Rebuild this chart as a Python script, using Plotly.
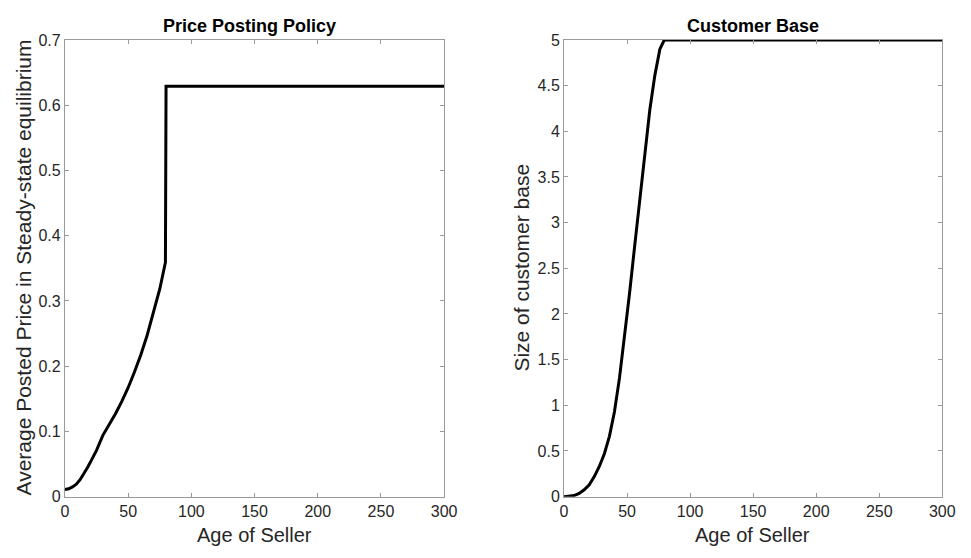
import plotly.graph_objects as go

W, H = 971, 558

# Left panel: price posting policy
age_price = [0, 3, 6, 9, 12, 15, 18, 21, 25, 30, 35, 40, 45, 50, 55, 60, 65, 70, 75, 79.5, 80, 300]
price = [0.011, 0.012, 0.015, 0.019, 0.026, 0.035, 0.045, 0.056, 0.071, 0.094, 0.110, 0.127, 0.146, 0.167, 0.191, 0.217, 0.247, 0.281, 0.318, 0.359, 0.629, 0.629]

# Right panel: customer base
age_cust = [0, 4, 8, 12, 16, 20, 24, 28, 32, 36, 40, 44, 48, 52, 56, 60, 64, 68, 72, 76, 79.5, 300]
cust = [0.0, 0.003, 0.012, 0.035, 0.075, 0.13, 0.22, 0.33, 0.47, 0.66, 0.93, 1.3, 1.74, 2.23, 2.74, 3.24, 3.76, 4.23, 4.61, 4.9, 5.0, 5.0]

x_ticks = [0, 50, 100, 150, 200, 250, 300]
left_yticks = [0, 0.1, 0.2, 0.3, 0.4, 0.5, 0.6, 0.7]
left_ytext = ["0", "0.1", "0.2", "0.3", "0.4", "0.5", "0.6", "0.7"]
right_yticks = [0, 0.5, 1, 1.5, 2, 2.5, 3, 3.5, 4, 4.5, 5]
right_ytext = ["0", "0.5", "1", "1.5", "2", "2.5", "3", "3.5", "4", "4.5", "5"]

FONT = "Liberation Sans, Arial, Helvetica, sans-serif"
AX_COLOR = "#9a9a9a"
TXT_COLOR = "#262626"

fig = go.Figure()
fig.add_trace(go.Scatter(x=age_price, y=price, mode="lines",
                         line=dict(color="black", width=3), xaxis="x", yaxis="y",
                         showlegend=False, hoverinfo="skip"))
fig.add_trace(go.Scatter(x=age_cust, y=cust, mode="lines",
                         line=dict(color="black", width=3), xaxis="x2", yaxis="y2",
                         showlegend=False, hoverinfo="skip"))

def px_x(p):
    return p / W

def px_y(p):
    return 1 - p / H

common_axis = dict(showline=True, linecolor=AX_COLOR, linewidth=1, mirror="ticks",
                   ticks="inside", ticklen=4, tickcolor=AX_COLOR, showgrid=False,
                   zeroline=False, tickfont=dict(family=FONT, size=16, color=TXT_COLOR))

fig.update_layout(
    autosize=True,
    margin=dict(l=0, r=0, t=0, b=0),
    paper_bgcolor="white", plot_bgcolor="white",
    xaxis=dict(domain=[px_x(62), px_x(448)], range=[0, 300], tickvals=x_ticks,
               anchor="y", **common_axis),
    yaxis=dict(domain=[px_y(504), px_y(33)], range=[0, 0.7], tickvals=left_yticks,
               ticktext=left_ytext, anchor="x", **common_axis),
    xaxis2=dict(domain=[px_x(570), px_x(955)], range=[0, 300], tickvals=x_ticks,
                anchor="y2", **common_axis),
    yaxis2=dict(domain=[px_y(504), px_y(33)], range=[0, 5], tickvals=right_yticks,
                ticktext=right_ytext, anchor="x2", **common_axis),
)

ann = []
def add_text(text, x, y, size, bold=False, angle=0):
    ann.append(dict(text=f"<b>{text}</b>" if bold else text, x=px_x(x), y=px_y(y),
                    xref="paper", yref="paper", showarrow=False, textangle=angle,
                    xanchor="center", yanchor="middle",
                    font=dict(family=FONT, size=size, color="black" if bold else TXT_COLOR)))

add_text("Price Posting Policy", 250, 19, 18, bold=True)
add_text("Customer Base", 762, 19, 18, bold=True)
add_text("Age of Seller", 255, 544, 20)
add_text("Age of Seller", 762, 544, 20)
add_text("Average Posted Price in Steady-state equilibrium", 20, 268, 21, angle=-90)
add_text("Size of customer base", 527, 268, 21, angle=-90)
fig.update_layout(annotations=ann)

fig.write_html(
    "out.html",
    default_width="100vw",
    default_height="100vh",
    config={"responsive": True, "displayModeBar": False},
    post_script=(
        "document.documentElement.style.margin='0';"
        "document.body.style.margin='0';"
        "document.body.style.overflow='hidden';"
        "document.documentElement.style.overflow='hidden';"
        "Plotly.Plots.resize(document.getElementById('{plot_id}'));"
    ),
)
